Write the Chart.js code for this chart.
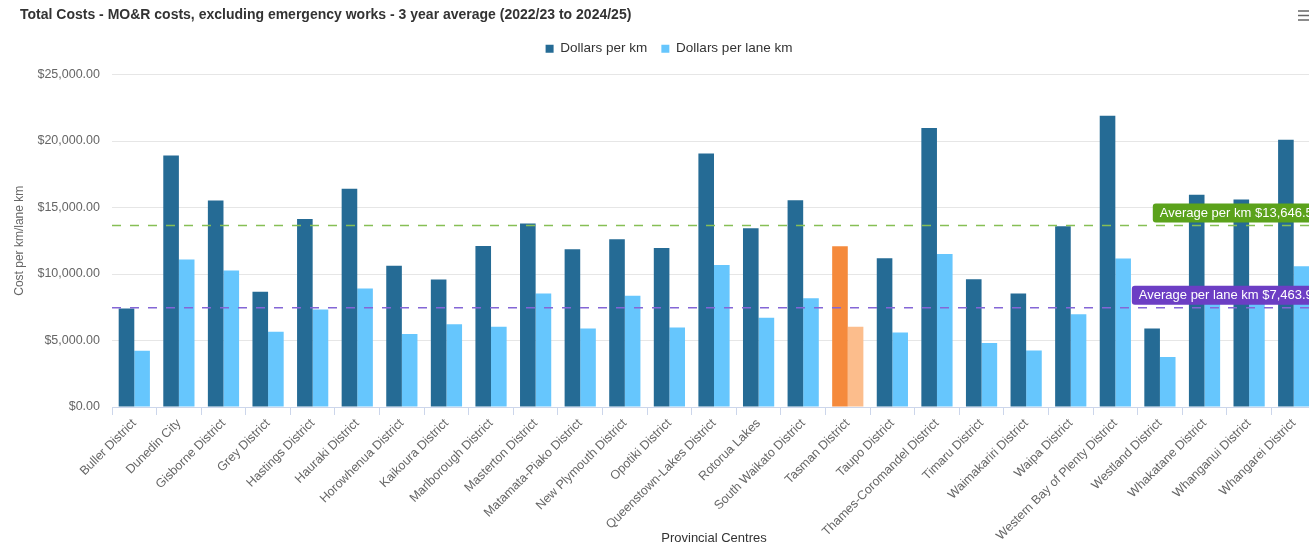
<!DOCTYPE html>
<html><head><meta charset="utf-8">
<script src="https://cdn.jsdelivr.net/npm/chart.js@4.4.1/dist/chart.umd.min.js"></script>
<style>
html,body{margin:0;padding:0;background:#fff;overflow:hidden;width:1309px;height:548px;}
#wrap{position:absolute;left:0;top:0;width:1320px;height:548px;}
</style></head><body>
<div id="wrap"><canvas id="c"></canvas></div>
<script>
const chartTitle = "Total Costs - MO&R costs, excluding emergency works - 3 year average (2022/23 to 2024/25)";
const categories = ["Buller District","Dunedin City","Gisborne District","Grey District","Hastings District","Hauraki District","Horowhenua District","Kaikoura District","Marlborough District","Masterton District","Matamata-Piako District","New Plymouth District","Opotiki District","Queenstown-Lakes District","Rotorua Lakes","South Waikato District","Tasman District","Taupo District","Thames-Coromandel District","Timaru District","Waimakariri District","Waipa District","Western Bay of Plenty District","Westland District","Whakatane District","Whanganui District","Whangarei District"];
const perKm = [7410, 18919, 15518, 8659, 14139, 16416, 10611, 9585, 12112, 13789, 11862, 12613, 11962, 19069, 13438, 15541, 12087, 11186, 20971, 9610, 8534, 13589, 21897, 5906, 15966, 15593, 20097];
const perLaneKm = [4227, 11088, 10263, 5656, 7330, 8909, 5480, 6231, 6031, 8534, 5906, 8358, 5981, 10686, 6706, 8183, 6031, 5606, 11512, 4805, 4254, 6982, 11161, 3754, 7800, 7750, 10586];
const seriesNames = ["Dollars per km", "Dollars per lane km"];
const highlightCategory = "Tasman District";
const yTicks = [0, 5000, 10000, 15000, 20000, 25000];
const avgPerKm = 13646.5;
const avgPerLaneKm = 7463.9;
const xAxisTitle = "Provincial Centres";
const yAxisTitle = "Cost per km/lane km";

const FONT = "'Liberation Sans', Arial, Helvetica, sans-serif";
const DARK = "#256b95", LIGHT = "#66c6fd", ORANGE = "#f58a3c", LORANGE = "#fcbd8c";
const fmt = v => "$" + v.toLocaleString("en-US", {minimumFractionDigits: 2, maximumFractionDigits: 2});

const darkColors = categories.map(c => c === highlightCategory ? ORANGE : DARK);
const lightColors = categories.map(c => c === highlightCategory ? LORANGE : LIGHT);

const avgLines = [
  {text: "Average per km " + fmt(avgPerKm), value: avgPerKm, line: "#86bf55", box: "#5ba21b"},
  {text: "Average per lane km " + fmt(avgPerLaneKm), value: avgPerLaneKm, line: "#8466d6", box: "#6c3ec4"}
];

const decor = {
  id: "decor",
  afterDraw(chart) {
    const ctx = chart.ctx;
    ctx.save();
    ctx.fillStyle = "#333333";
    ctx.font = "bold 14px " + FONT;
    ctx.textBaseline = "middle";
    ctx.textAlign = "left";
    ctx.fillText(chartTitle, 20, 15);
    ctx.strokeStyle = "#666666";
    ctx.lineWidth = 1.5;
    [11, 15.5, 20].forEach(y => { ctx.beginPath(); ctx.moveTo(1298, y); ctx.lineTo(1310, y); ctx.stroke(); });
    ctx.restore();
  },
  afterDatasetsDraw(chart) {
    const ctx = chart.ctx, a = chart.chartArea, ys = chart.scales.y;
    ctx.save();
    avgLines.forEach(l => {
      const y = ys.getPixelForValue(l.value);
      ctx.strokeStyle = l.line; ctx.lineWidth = 1.5; ctx.setLineDash([9, 9]);
      ctx.beginPath(); ctx.moveTo(a.left, y); ctx.lineTo(a.right, y); ctx.stroke();
    });
    ctx.setLineDash([]);
    ctx.font = "13px " + FONT;
    avgLines.forEach(l => {
      const y = ys.getPixelForValue(l.value);
      const w = ctx.measureText(l.text).width + 14;
      const R = a.right + 11;
      const x = R - w, h = 19, top = y - 3 - h;
      ctx.fillStyle = l.box;
      ctx.beginPath();
      if (ctx.roundRect) ctx.roundRect(x, top, w, h, 3); else ctx.rect(x, top, w, h);
      ctx.fill();
      ctx.fillStyle = "#ffffff"; ctx.textBaseline = "middle"; ctx.textAlign = "left";
      ctx.fillText(l.text, x + 7, top + h / 2 + 0.5);
    });
    ctx.restore();
  }
};

new Chart(document.getElementById("c"), {
  type: "bar",
  data: {
    labels: categories,
    datasets: [
      {label: seriesNames[0], data: perKm, xAxisID: "x", yAxisID: "y", backgroundColor: darkColors, borderWidth: 0, categoryPercentage: 0.7, barPercentage: 1.0},
      {label: seriesNames[1], data: perLaneKm, xAxisID: "x", yAxisID: "y", backgroundColor: lightColors, borderWidth: 0, categoryPercentage: 0.7, barPercentage: 1.0}
    ]
  },
  options: {
    responsive: true, maintainAspectRatio: false, animation: false,
    layout: {padding: {top: 28, left: 22, right: 4, bottom: 0}},
    plugins: {
      legend: {
        position: "top", align: "center",
        labels: {
          boxWidth: 8, boxHeight: 8, padding: 14, color: "#333333",
          font: {family: FONT, size: 13.5},
          generateLabels: chart => chart.data.datasets.map((d, i) => ({
            text: d.label, fillStyle: i === 0 ? DARK : LIGHT, strokeStyle: i === 0 ? DARK : LIGHT,
            lineWidth: 0, datasetIndex: i, hidden: false, fontColor: "#333333"
          }))
        }
      },
      tooltip: {enabled: false}
    },
    scales: {
      x: {
        offset: true,
        grid: {display: true, drawOnChartArea: false, drawTicks: true, tickLength: 8, color: "#ccd6eb", offset: true},
        border: {display: true, color: "#ccd6eb"},
        ticks: {autoSkip: false, maxRotation: 45, minRotation: 45, padding: 1, color: "#666666", font: {family: FONT, size: 12.5}},
        title: {display: true, text: xAxisTitle, color: "#333333", font: {family: FONT, size: 13}, padding: {top: 0, bottom: 2}},
        afterFit(s) { s.height = 141; }
      },
      xTop: {
        type: "linear", axis: "x", position: "top", display: true,
        grid: {display: false}, border: {display: false}, ticks: {display: false},
        afterFit(s) { s.height = 9; }
      },
      y: {
        min: 0, max: 25000,
        afterBuildTicks(s) { s.ticks = yTicks.map(v => ({value: v})); },
        grid: {color: "#e6e6e6", drawTicks: false},
        border: {display: false},
        ticks: {padding: 12, color: "#666666", font: {family: FONT, size: 12.5}, callback: v => fmt(v)},
        title: {display: true, text: yAxisTitle, color: "#666666", font: {family: FONT, size: 12}, padding: {top: -9.2, bottom: 0}},
        afterFit(s) { s.width = 90; }
      }
    }
  },
  plugins: [decor]
});
</script>
</body></html>
